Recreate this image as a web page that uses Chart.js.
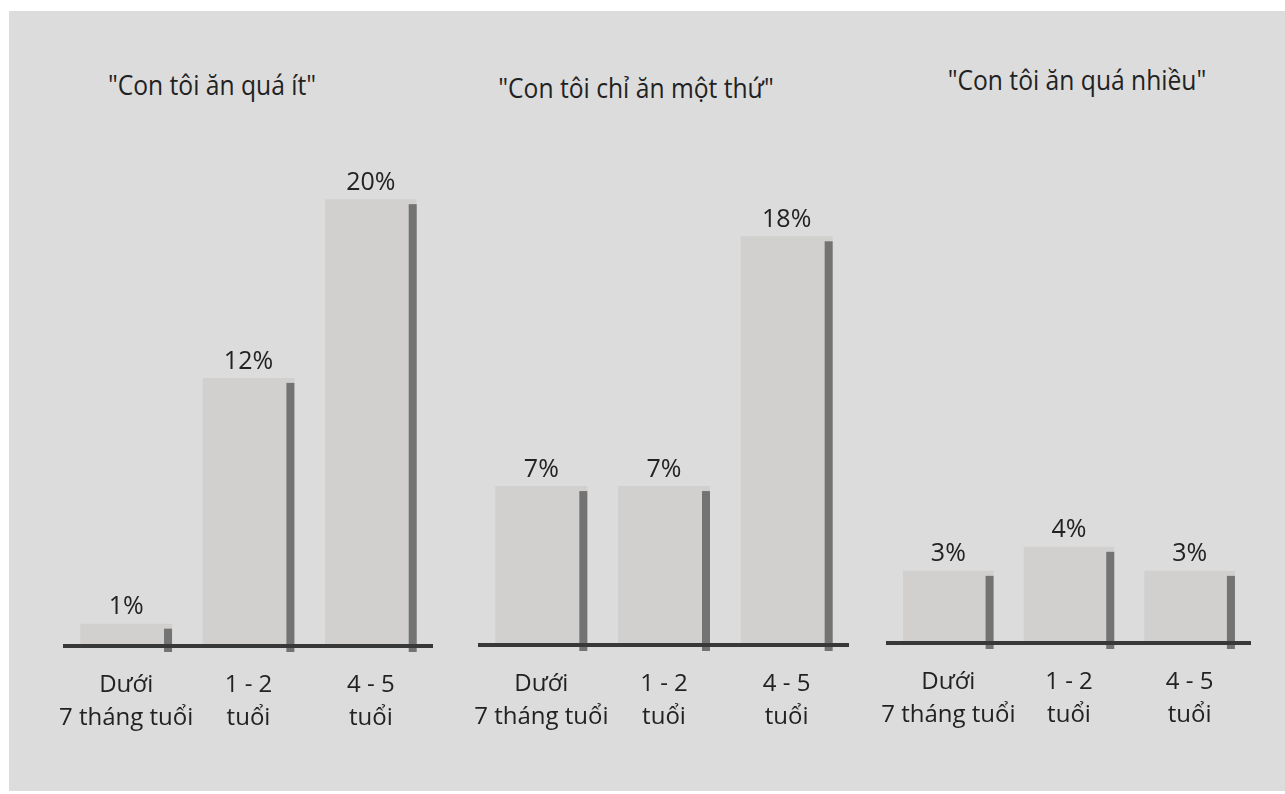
<!DOCTYPE html>
<html>
<head>
<meta charset="utf-8">
<script src="https://cdn.jsdelivr.net/npm/chart.js@4.4.1/dist/chart.umd.min.js"></script>
<style>
  html, body { margin: 0; padding: 0; background: #ffffff; }
  body { width: 1285px; height: 794px; position: relative; overflow: hidden; font-family: 'Open Sans', sans-serif; }
  #panel { position: absolute; left: 9px; top: 11px; right: 0; bottom: 3px; background: #dcdcdd; }
  .box { position: absolute; }
  .title { position: absolute; transform: translate(-50%, -50%) scaleX(0.88); white-space: nowrap;
           font-size: 28px; color: #222; }
</style>
</head>
<body>
<div id="panel"></div>

<div class="title" style="left:212px; top:84px;">"Con tôi ăn quá ít"</div>
<div class="title" style="left:636px; top:87px;">"Con tôi chỉ ăn một thứ"</div>
<div class="title" style="left:1077px; top:79px;">"Con tôi ăn quá nhiều"</div>

<div class="box" id="b1"><canvas id="c1"></canvas></div>
<div class="box" id="b2"><canvas id="c2"></canvas></div>
<div class="box" id="b3"><canvas id="c3"></canvas></div>

<script>
// categories shared by the three panels
const ageGroups = [['Dưới', '7 tháng tuổi'], ['1 - 2', 'tuổi'], ['4 - 5', 'tuổi']];

// percent of parents per age group
const eatsTooLittle = [1, 12, 20];
const eatsOneThing = [7, 7, 18];
const eatsTooMuch = [3, 4, 3];

const textColor = '#222222';
const barColor = '#d1d0ce';
const shadowColor = '#737373';
const lineColor = '#383838';

// dark strip on the right edge of each bar + value above it
const barDecor = {
    id: 'barDecor',
    afterDatasetsDraw(chart) {
        const { ctx } = chart;
        const meta = chart.getDatasetMeta(0);
        const values = chart.data.datasets[0].data;
        ctx.save();
        meta.data.forEach((bar, i) => {
            const right = bar.x + bar.width / 2;
            ctx.fillStyle = shadowColor;
            ctx.fillRect(right - 8, bar.y + 5, 8, bar.base - bar.y + 1);

            ctx.fillStyle = textColor;
            ctx.font = '25px "Open Sans"';
            ctx.textAlign = 'center';
            ctx.textBaseline = 'bottom';
            ctx.fillText(values[i] + '%', bar.x, bar.y - 4);
        });
        ctx.restore();
    }
};

function makePanel(boxId, canvasId, values, area, yMax) {
    const box = document.getElementById(boxId);
    const padX = 30, top = 140, axisH = 110;
    box.style.left = (area.left - padX) + 'px';
    box.style.top = top + 'px';
    box.style.width = (area.right - area.left + padX * 2) + 'px';
    box.style.height = (area.bottom - top + axisH) + 'px';

    new Chart(document.getElementById(canvasId), {
        type: 'bar',
        data: {
            labels: ageGroups,
            datasets: [{
                data: values,
                backgroundColor: barColor,
                borderWidth: 0,
                barPercentage: 0.75,
                categoryPercentage: 1
            }]
        },
        options: {
            maintainAspectRatio: false,
            responsive: true,
            animation: false,
            layout: { padding: { left: padX, right: padX, top: 10, bottom: 0 } },
            plugins: {
                legend: { display: false },
                tooltip: { enabled: false }
            },
            scales: {
                x: {
                    grid: { display: false },
                    border: { display: true, color: lineColor, width: 4, z: 2 },
                    ticks: {
                        color: textColor,
                        padding: 14,
                        maxRotation: 0,
                        minRotation: 0,
                        autoSkip: false,
                        font: { family: 'Open Sans', size: 24, lineHeight: 1.4 }
                    },
                    afterFit(scale) { scale.height = axisH; }
                },
                y: {
                    display: false,
                    min: 0,
                    max: yMax
                }
            }
        },
        plugins: [barDecor]
    });
}

makePanel('b1', 'c1', eatsTooLittle, { left: 65, right: 432, bottom: 646 }, 22.2);
makePanel('b2', 'c2', eatsOneThing, { left: 480, right: 848, bottom: 645 }, 21.8);
makePanel('b3', 'c3', eatsTooMuch, { left: 888, right: 1250, bottom: 643 }, 20.5);
</script>
</body>
</html>
